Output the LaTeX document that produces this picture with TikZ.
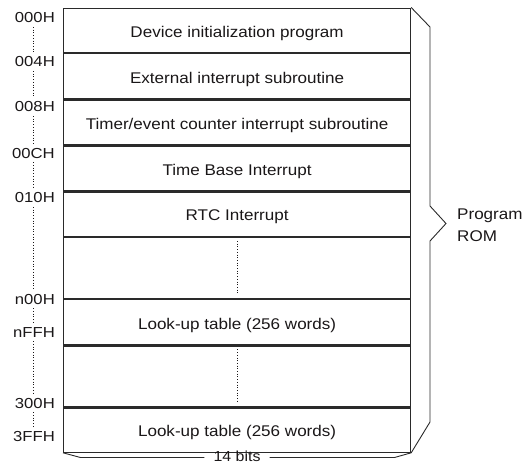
\documentclass[tikz,border=0pt]{standalone}
\usepackage{fontspec}
\setmainfont{Liberation Sans}
\newfontfamily\rowfont[FakeStretch=1.1]{Liberation Sans}
\newfontfamily\addrfont[FakeStretch=1.15]{Liberation Sans}
\usetikzlibrary{calc}
\definecolor{ink}{HTML}{1A1718}
\definecolor{rule}{HTML}{2A2A2A}
\begin{document}
\begin{tikzpicture}[x=1pt,y=-1pt,
  rowbox/.style={draw=rule, line width=1.2pt, minimum width=347pt, inner sep=0pt,
    anchor=north west, text height=13.5pt, text depth=0pt,
    font=\rowfont\fontsize{15.5}{18}\selectfont, text=ink},
  addr/.style={anchor=base east, inner sep=0pt,
    font=\addrfont\fontsize{14.5}{17}\selectfont, text=ink},
  sidetext/.style={anchor=base west, inner sep=0pt,
    font=\rowfont\fontsize{15.5}{18}\selectfont, text=ink},
  guide/.style={draw=ink, dotted, line width=0.7pt},
  brace/.style={draw=rule, line width=0.9pt, line join=miter}]
\useasboundingbox (0,0) rectangle (523,464);

% memory rows
\node[rowbox, minimum height=44.5pt] (r1) at (63,7.5) {Device initialization program};
\node[rowbox, minimum height=45pt] (r2) at (r1.south west) {External interrupt subroutine};
\node[rowbox, minimum height=45pt] (r3) at (r2.south west) {Timer/event counter interrupt subroutine};
\node[rowbox, minimum height=44.5pt] (r4) at (r3.south west) {Time Base Interrupt};
\node[rowbox, minimum height=44.5pt] (r5) at (r4.south west) {RTC Interrupt};
\node[rowbox, minimum height=61pt] (r6) at (r5.south west) {};
\node[rowbox, minimum height=45pt] (r7) at (r6.south west) {Look-up table (256 words)};
\node[rowbox, minimum height=61pt] (r8) at (r7.south west) {};
\node[rowbox, minimum height=44pt] (r9) at (r8.south west) {Look-up table (256 words)};

% dotted continuation marks in empty rows
\draw[guide] ($(r6.north)+(0,4)$) -- ($(r6.south)+(0,-5)$);
\draw[guide] ($(r8.north)+(0,4)$) -- ($(r8.south)+(0,-5)$);

% addresses
\node[addr] (a0) at (55,22.7) {000H};
\node[addr] (a1) at (55,66.7) {004H};
\node[addr] (a2) at (55,111.7) {008H};
\node[addr] (a3) at (55,158) {00CH};
\node[addr] (a4) at (55,202.7) {010H};
\node[addr] (a5) at (55,304) {n00H};
\node[addr] (a6) at (55,337) {nFFH};
\node[addr] (a7) at (55,408) {300H};
\node[addr] (a8) at (55,441.7) {3FFH};

\coordinate (gx) at (33,0);
\foreach \p/\q in {a0/a1,a1/a2,a2/a3,a3/a4,a4/a5,a5/a6,a6/a7,a7/a8}
  \draw[guide] ($(\p.south -| gx)+(0,4)$) -- ($(\q.north -| gx)+(0,-4)$);

% right brace: Program ROM
\draw[brace] (r1.north east) -- (430,27) -- (430,206) -- (446,223.5) -- (430,241)
  -- (430,422) -- (r9.south east);
\node[sidetext] (prog) at (457,219) {Program};
\node[sidetext] (rom) at (457,241.7) {ROM};

% bottom brace: 14 bits
\node[anchor=base, inner xsep=9pt, inner ysep=0pt,
  font=\rowfont\fontsize{14.5}{17}\selectfont, text=ink] (bits) at (237,461.5) {14 bits};
\coordinate (bl) at (80.5,457.5);
\coordinate (br) at (394.5,457.5);
\draw[brace] (r9.south west) -- (bl) -- (bl -| bits.west);
\draw[brace] (bits.east |- br) -- (br) -- (r9.south east);
\end{tikzpicture}
\end{document}
